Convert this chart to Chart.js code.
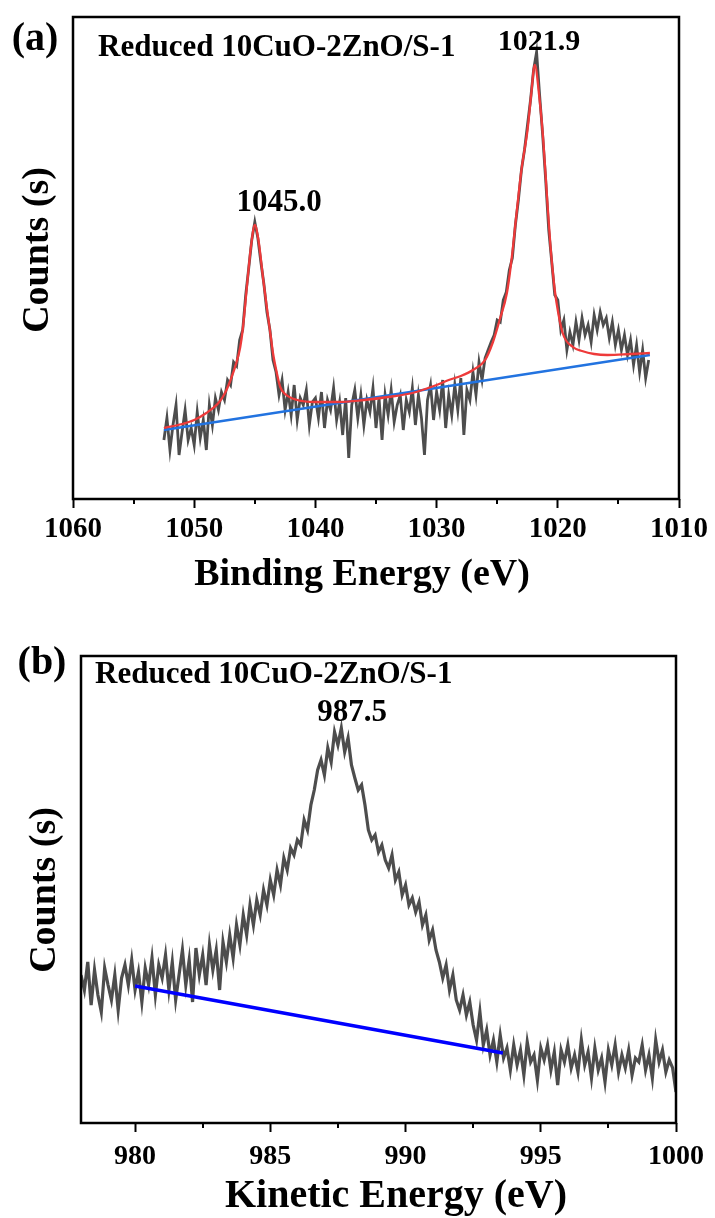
<!DOCTYPE html>
<html>
<head>
<meta charset="utf-8">
<script src="https://cdn.jsdelivr.net/npm/chart.js@4.4.0/dist/chart.umd.min.js"></script>
<style>
  body { margin: 0; background: #fff; }
  #wrap { position: relative; width: 715px; height: 1218px; }
  canvas { position: absolute; left: 0; }
  #chartA { top: 0; }
  #chartB { top: 610px; }
</style>
</head>
<body>
<div id="wrap">
  <canvas id="chartA" width="715" height="610"></canvas>
  <canvas id="chartB" width="715" height="608"></canvas>
</div>
<script>
// ---- panel (a): Cu 2p, binding energy ----
const startA = 1052.5, stepA = -0.25;
const countsA = [
  59, 81, 49, 74, 94, 44, 67, 89,
  59, 71, 54, 87, 61, 79, 49, 94,
  74, 101, 89, 107, 99, 119, 114, 137,
  133, 159, 169, 204, 231, 259, 277, 261,
  237, 215, 187, 169, 139, 127, 104, 119,
  89, 107, 84, 114, 79, 101, 94, 109,
  74, 97, 101, 81, 107, 71, 99, 89,
  111, 79, 97, 64, 101, 41, 94, 109,
  81, 104, 74, 99, 87, 111, 71, 101,
  59, 104, 84, 109, 77, 94, 104, 69,
  99, 87, 111, 74, 104, 81, 44, 99,
  114, 79, 107, 89, 119, 71, 104, 84,
  114, 89, 121, 64, 109, 99, 127, 104,
  137, 119, 141, 149, 157, 164, 179, 177,
  199, 207, 229, 241, 274, 299, 329, 349,
  374, 399, 429, 447, 404, 364, 319, 269,
  237, 204, 199, 169, 179, 149, 167, 154,
  177, 159, 181, 164, 174, 157, 184, 169,
  187, 174, 181, 161, 177, 154, 169, 149,
  164, 144, 159, 134, 154, 127, 149, 121,
  139
];
const fitEnergyA = [1052.5, 1051, 1050, 1049, 1048, 1047.5, 1047, 1046.5, 1046.2, 1046, 1045.6, 1045.3, 1045.0, 1044.7, 1044.3, 1044.0, 1043.7, 1043.5, 1043.2, 1042.9, 1042.5, 1041.5, 1040, 1038, 1036, 1034, 1032, 1030, 1029, 1028, 1027, 1026, 1025.35, 1024.8, 1024.2, 1023.8, 1023.4, 1023.0, 1022.5, 1022.2, 1021.9, 1021.5, 1021.2, 1020.9, 1020.6, 1020.3, 1020.1, 1019.6, 1018.75, 1018, 1017, 1015.9, 1014, 1012.4];
const fitCountsA = [71, 75, 79, 86, 96, 105, 119, 137, 152, 169, 219, 254, 274, 259, 219, 191, 164, 146, 127, 112, 105, 99, 97, 97, 99, 102, 106, 114, 119, 123, 129, 139, 157, 179, 206, 241, 286, 329, 369, 404, 434, 399, 359, 304, 252, 214, 196, 166, 152, 148, 145, 144, 145, 146];
const baseEnergyA = [1052.5, 1012.4];
const baseCountsA = [69, 144];
const majorTicksA = [1060, 1050, 1040, 1030, 1020, 1010];
const minorTicksA = [1055, 1045, 1035, 1025, 1015];

// ---- panel (b): Cu LMM, kinetic energy ----
const startB = 978, stepB = 0.125;
const countsB = [
  148, 133, 161, 118, 153, 128, 111, 155, 138, 123, 148, 113, 145, 158, 138, 163,
  133, 151, 121, 155, 138, 165, 128, 158, 145, 168, 133, 161, 123, 148, 173, 138,
  163, 121, 175, 148, 168, 138, 178, 153, 173, 133, 181, 161, 188, 165, 198, 178,
  208, 188, 218, 198, 223, 208, 233, 218, 243, 228, 253, 238, 265, 253, 275, 268,
  283, 278, 303, 293, 318, 333, 353, 363, 348, 375, 361, 391, 378, 395, 371, 385,
  358, 345, 333, 338, 318, 293, 283, 288, 271, 278, 263, 255, 268, 243, 251, 228,
  238, 218, 225, 211, 221, 198, 208, 183, 193, 173, 161, 145, 158, 133, 148, 123,
  113, 128, 108, 121, 98, 83, 111, 78, 93, 68, 83, 61, 88, 65, 75, 53,
  78, 58, 73, 48, 81, 61, 68, 43, 75, 63, 78, 53, 71, 38, 73, 61,
  78, 55, 68, 51, 83, 58, 71, 45, 75, 53, 65, 41, 73, 58, 78, 51,
  68, 55, 73, 48, 65, 61, 78, 53, 68, 45, 83, 61, 73, 51, 63, 55,
  31
];
const baseEnergyB = [980, 993.6];
const baseCountsB = [137, 70];
const majorTicksB = [980, 985, 990, 995, 1000];
const minorTicksB = [982.5, 987.5, 992.5, 997.5];

const FONT = "'Liberation Serif', 'Times New Roman', serif";

function toPoints(xs, ys) {
  return ys.map((y, i) => ({ x: xs[i], y: y }));
}
function grid(start, step, n) {
  const xs = [];
  for (let i = 0; i < n; i++) xs.push(+(start + i * step).toFixed(3));
  return xs;
}

// frame, minor ticks and the text labels
function deco(minorTicks, labels) {
  return {
    id: 'deco',
    afterDraw(chart) {
      const ctx = chart.ctx, a = chart.chartArea, x = chart.scales.x;
      ctx.save();
      ctx.strokeStyle = '#000';
      ctx.lineWidth = 2;
      minorTicks.forEach(v => {
        const px = Math.round(x.getPixelForValue(v));
        ctx.beginPath();
        ctx.moveTo(px, a.bottom);
        ctx.lineTo(px, a.bottom + 5);
        ctx.stroke();
      });
      ctx.lineWidth = 2.5;
      ctx.strokeRect(a.left, a.top, a.right - a.left, a.bottom - a.top);
      ctx.fillStyle = '#000';
      ctx.textBaseline = 'middle';
      labels.forEach(t => {
        ctx.save();
        ctx.font = 'bold ' + t.size + 'px ' + FONT;
        ctx.textAlign = t.align || 'center';
        ctx.translate(t.x, t.y);
        if (t.rotate) ctx.rotate(-Math.PI / 2);
        ctx.fillText(t.text, 0, 0);
        ctx.restore();
      });
      ctx.restore();
    }
  };
}

function spectrum(canvasId, d) {
  return new Chart(document.getElementById(canvasId), {
    type: 'scatter',
    data: {
      datasets: d.datasets
    },
    options: {
      responsive: false,
      animation: false,
      devicePixelRatio: 1,
      layout: { padding: d.padding },
      plugins: { legend: { display: false }, tooltip: { enabled: false } },
      scales: {
        x: {
          type: 'linear',
          min: d.xMin,
          max: d.xMax,
          reverse: d.reverse,
          afterBuildTicks: s => { s.ticks = d.major.map(v => ({ value: v })); },
          afterFit: s => { s.height = d.axisHeight; },
          border: { display: false },
          grid: { drawOnChartArea: false, tickLength: 9, tickWidth: 2, color: '#000' },
          ticks: {
            color: '#000',
            padding: d.tickPad,
            maxRotation: 0,
            autoSkip: false,
            font: { family: FONT, size: d.tickSize, weight: 'bold' },
            callback: v => String(v)
          }
        },
        y: { display: false, min: 0, max: d.yMax }
      }
    },
    plugins: [deco(d.minor, d.labels)]
  });
}

spectrum('chartA', {
  datasets: [
    { data: toPoints(fitEnergyA, fitCountsA), showLine: true, borderColor: '#ee3a3a', borderWidth: 2.3, pointRadius: 0, cubicInterpolationMode: 'monotone', order: 0 },
    { data: toPoints(baseEnergyA, baseCountsA), showLine: true, borderColor: '#2273e0', borderWidth: 2.3, pointRadius: 0, order: 1 },
    { data: toPoints(grid(startA, stepA, countsA.length), countsA), showLine: true, borderColor: '#4d4d4d', borderWidth: 2.8, pointRadius: 0, order: 2 }
  ],
  padding: { top: 17, right: 36, left: 73, bottom: 0 },
  xMin: 1010, xMax: 1060, reverse: true, yMax: 482,
  major: majorTicksA, minor: minorTicksA,
  axisHeight: 111, tickPad: 4, tickSize: 29,
  labels: [
    { text: '(a)', x: 35, y: 40, size: 40 },
    { text: 'Reduced 10CuO-2ZnO/S-1', x: 98, y: 48, size: 31, align: 'left' },
    { text: '1021.9', x: 539, y: 42, size: 30 },
    { text: '1045.0', x: 279, y: 203, size: 31 },
    { text: 'Counts (s)', x: 38, y: 250, size: 38, rotate: true },
    { text: 'Binding Energy (eV)', x: 362, y: 575, size: 38 }
  ]
});

spectrum('chartB', {
  datasets: [
    { data: toPoints(baseEnergyB, baseCountsB), showLine: true, borderColor: '#0000ff', borderWidth: 3.5, pointRadius: 0, order: 0 },
    { data: toPoints(grid(startB, stepB, countsB.length), countsB), showLine: true, borderColor: '#4d4d4d', borderWidth: 3.2, pointRadius: 0, order: 1 }
  ],
  padding: { top: 46, right: 39, left: 81, bottom: 0 },
  xMin: 978, xMax: 1000, reverse: false, yMax: 467,
  major: majorTicksB, minor: minorTicksB,
  axisHeight: 95, tickPad: 8, tickSize: 28,
  labels: [
    { text: '(b)', x: 42, y: 54, size: 40 },
    { text: 'Reduced 10CuO-2ZnO/S-1', x: 95, y: 65, size: 31, align: 'left' },
    { text: '987.5', x: 352, y: 103, size: 31 },
    { text: 'Counts (s)', x: 45, y: 280, size: 38, rotate: true },
    { text: 'Kinetic Energy (eV)', x: 396, y: 587, size: 40 }
  ]
});
</script>
</body>
</html>
